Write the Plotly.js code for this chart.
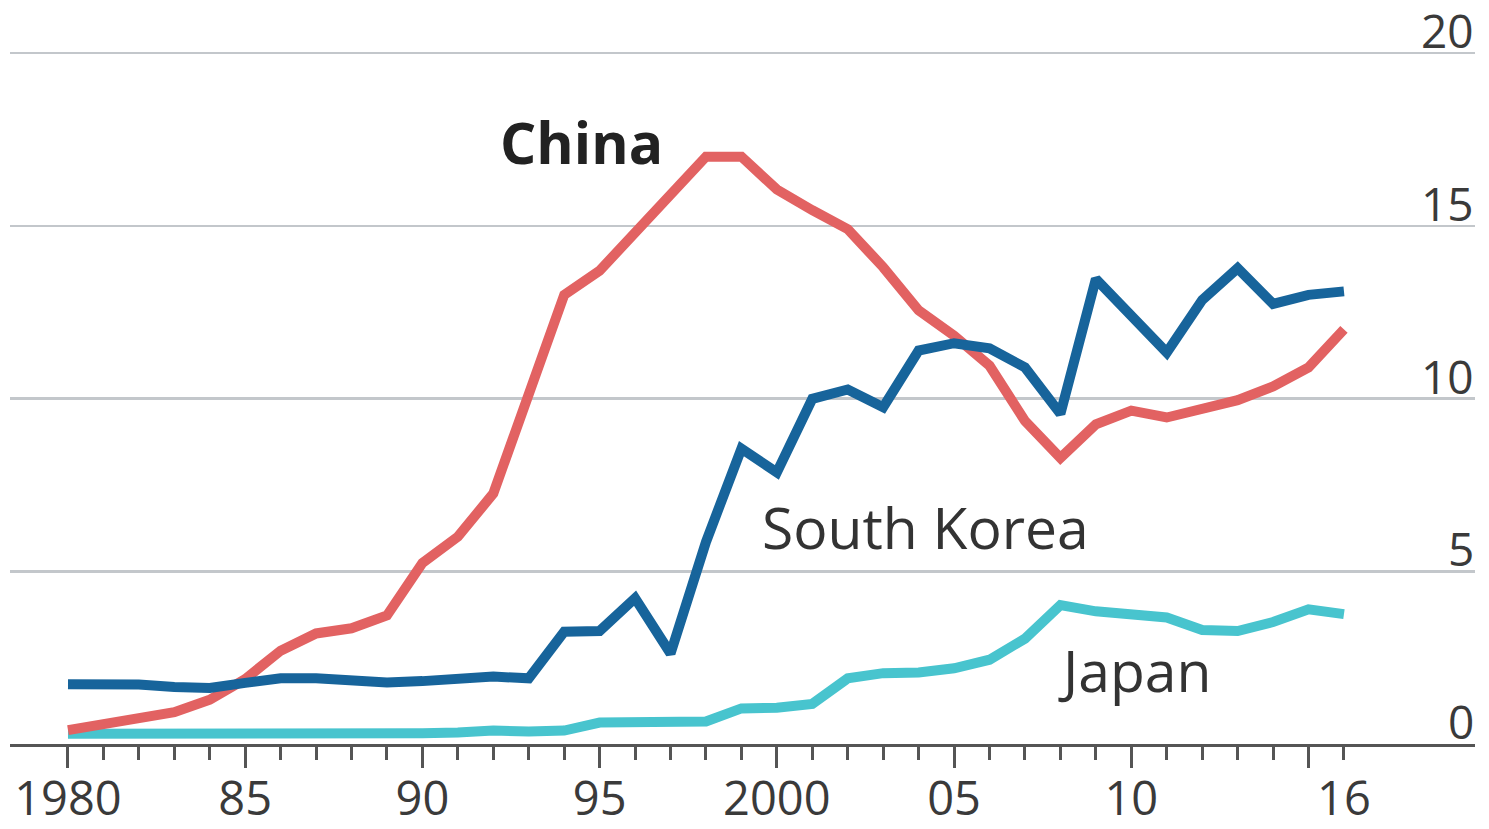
<!DOCTYPE html>
<html>
<head>
<meta charset="utf-8">
<script src="https://cdn.plot.ly/plotly-3.0.1.min.js"></script>
<style>
  html, body { margin: 0; padding: 0; background: #ffffff; }
  #chart { width: 1489px; height: 829px; }
</style>
</head>
<body>
<div id="chart"></div>
<script>
const years = [1980,1981,1982,1983,1984,1985,1986,1987,1988,1989,
               1990,1991,1992,1993,1994,1995,1996,1997,1998,1999,
               2000,2001,2002,2003,2004,2005,2006,2007,2008,2009,
               2010,2011,2012,2013,2014,2015,2016];

const china = [0.4,0.55,0.73,0.92,1.28,1.88,2.7,3.2,3.35,3.72,
               5.24,6.0,7.25,10.1,13.0,13.7,14.8,15.9,17.0,17.0,
               16.05,15.45,14.9,13.8,12.55,11.82,10.95,9.35,8.28,9.25,
               9.65,9.45,9.72,9.95,10.35,10.9,12.0];

const southKorea = [1.73,1.73,1.72,1.65,1.62,1.77,1.9,1.9,1.85,1.78,
                    1.82,1.9,1.95,1.9,3.25,3.27,4.22,2.62,5.85,8.55,
                    7.86,9.99,10.26,9.75,11.39,11.6,11.45,10.9,9.56,13.46,
                    12.43,11.33,12.85,13.77,12.74,13.0,13.1];

const japan = [0.3,0.3,0.3,0.28,0.27,0.26,0.25,0.28,0.27,0.25,
               0.31,0.33,0.39,0.36,0.39,0.62,0.62,0.62,0.65,1.03,
               1.05,1.16,1.9,2.05,2.07,2.19,2.44,3.05,4.02,3.84,
               3.78,3.66,3.3,3.27,3.53,3.9,3.76];

const majorTicks = [1980,1985,1990,1995,2000,2005,2010,2015];
const labelYears = [1980,1985,1990,1995,2000,2005,2010,2016];
const labelText  = ['1980','85','90','95','2000','05','10','16'];
const yTicks = [0,5,10,15,20];

const seriesLabels = [
  {text: '<b>China</b>', x: 1994.5, y: 17.42, color: '#222222'},
  {text: 'South Korea', x: 2004.2, y: 6.28, color: '#333333'},
  {text: 'Japan', x: 2010.1, y: 2.14, color: '#333333'}
];

const xRange = [1978.364, 2019.697];
const yRange = [0, 21.534];

const traces = [
  {x: years, y: japan, type: 'scatter', mode: 'lines', name: 'Japan',
   line: {color: '#48c4ce', width: 10}},
  {x: years, y: china, type: 'scatter', mode: 'lines', name: 'China',
   line: {color: '#e26262', width: 10}},
  {x: years, y: southKorea, type: 'scatter', mode: 'lines', name: 'South Korea',
   line: {color: '#17649b', width: 10}},
  // invisible carrier so the label axis is drawn
  {x: years, y: japan, type: 'scatter', mode: 'lines', xaxis: 'x2', yaxis: 'y',
   line: {color: 'rgba(0,0,0,0)', width: 0}, hoverinfo: 'skip', showlegend: false}
];

const seriesAnnotations = seriesLabels.map(s => ({
  text: s.text, x: s.x, y: s.y, xref: 'x', yref: 'y',
  showarrow: false, xanchor: 'center', yanchor: 'middle',
  font: {size: 57, color: s.color, family: 'Open Sans, sans-serif'}
}));

// y-axis tick labels: right-aligned, sitting just above each gridline
const yLabelAnnotations = yTicks.map(v => ({
  text: String(v), x: 1, xref: 'paper', y: v, yref: 'y',
  showarrow: false, xanchor: 'right', yanchor: 'bottom', yshift: -9,
  borderpad: 0,
  font: {size: 46, color: '#3a3a3a', family: 'Open Sans, sans-serif'}
}));

const layout = {
  width: 1489, height: 829,
  margin: {l: 10, r: 14, t: 0, b: 85, pad: 0},
  paper_bgcolor: '#ffffff', plot_bgcolor: '#ffffff',
  showlegend: false,
  font: {family: 'Open Sans, Noto Sans, sans-serif', color: '#3a3a3a'},
  xaxis: {
    range: xRange, showgrid: false, zeroline: false,
    showline: true, linecolor: '#555555', linewidth: 3,
    tickmode: 'array', tickvals: majorTicks,
    ticks: 'outside', ticklen: 21, tickwidth: 3, tickcolor: '#555555',
    showticklabels: false,
    minor: {tickmode: 'array', tickvals: years, ticks: 'outside', ticklen: 13,
            tickwidth: 3, tickcolor: '#555555', showgrid: false}
  },
  xaxis2: {
    range: xRange, overlaying: 'x', anchor: 'y', side: 'bottom',
    showgrid: false, zeroline: false, showline: false,
    tickmode: 'array', tickvals: labelYears, ticktext: labelText,
    ticks: 'outside', ticklen: 14, tickcolor: 'rgba(0,0,0,0)',
    tickfont: {size: 47, color: '#3a3a3a', family: 'Open Sans, sans-serif'}
  },
  yaxis: {
    range: yRange, side: 'right',
    tickmode: 'array', tickvals: yTicks,
    showgrid: true, gridcolor: '#c3c7cb', gridwidth: 2.5,
    zeroline: false, showline: false, ticks: '',
    showticklabels: false
  },
  annotations: seriesAnnotations.concat(yLabelAnnotations)
};

Plotly.newPlot('chart', traces, layout, {displayModeBar: false, staticPlot: true});
</script>
</body>
</html>
